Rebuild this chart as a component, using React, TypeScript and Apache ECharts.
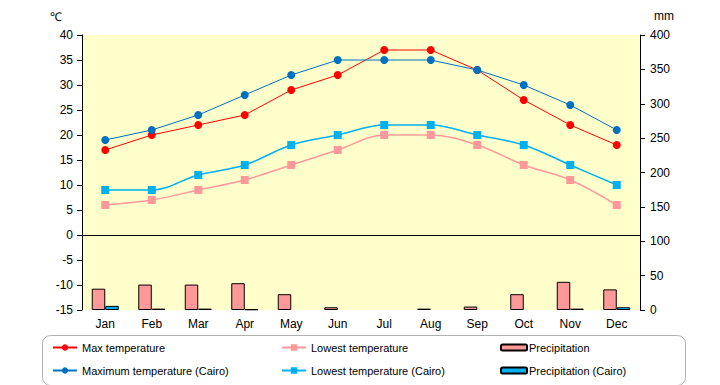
import React, { useEffect, useRef } from "react";
import * as echarts from "echarts";

const months = ["Jan", "Feb", "Mar", "Apr", "May", "Jun", "Jul", "Aug", "Sep", "Oct", "Nov", "Dec"];
const maxTemp = [17, 20, 22, 24, 29, 32, 37, 37, 33, 27, 22, 18];
const minTemp = [6, 7, 9, 11, 14, 17, 20, 20, 18, 14, 11, 6];
const precip = [31, 37, 37, 39, 23, 4, 0, 2, 5, 23, 41, 30];
const maxTempCairo = [19, 21, 24, 28, 32, 35, 35, 35, 33, 30, 26, 21];
const minTempCairo = [9, 9, 12, 14, 18, 20, 22, 22, 20, 18, 14, 10];
const precipCairo = [6, 2, 2, 1, 0, 0, 0, 0, 0, 0, 2, 4];

const FONT = "Liberation Sans";

const hideZero = (arr: number[]) => arr.map((v) => (v === 0 ? null : v));

export default function App() {
  const ref = useRef<HTMLDivElement>(null);
  useEffect(() => {
    const chart = echarts.init(ref.current!, null, { renderer: "svg" });
    const txt = { fontFamily: FONT, fontSize: 12, color: "#000" };
    const legTxt = { fontFamily: FONT, fontSize: 11, color: "#000" };
    chart.setOption({
      animation: false,
      textStyle: { fontFamily: FONT },
      grid: { left: 82, right: 80, top: 35, bottom: 75, show: true, backgroundColor: "#FFFFCC", borderWidth: 0 },
      xAxis: {
        type: "category",
        data: months,
        axisLine: { show: false },
        axisTick: { show: false },
        axisLabel: { ...txt, margin: 8 },
      },
      yAxis: [
        {
          type: "value",
          min: -15,
          max: 40,
          interval: 5,
          position: "left",
          axisLine: { show: true, lineStyle: { color: "#000", width: 1 } },
          axisTick: { show: true, inside: false, length: 5, lineStyle: { color: "#000" } },
          axisLabel: { ...txt, margin: 9 },
          splitLine: { show: false },
        },
        {
          type: "value",
          min: 0,
          max: 400,
          interval: 50,
          position: "right",
          axisLine: { show: true, lineStyle: { color: "#000", width: 1 } },
          axisTick: { show: true, inside: false, length: 5, lineStyle: { color: "#000" } },
          axisLabel: { ...txt, margin: 10 },
          splitLine: { show: false },
        },
      ],
      legend: [
        {
          left: 52,
          top: 342,
          padding: 0,
          orient: "vertical",
          itemGap: 12,
          itemWidth: 24,
          itemHeight: 8,
          textStyle: legTxt,
          data: ["Max temperature", "Maximum temperature (Cairo)"],
        },
        {
          left: 281,
          top: 342,
          padding: 0,
          orient: "vertical",
          itemGap: 12,
          itemWidth: 24,
          itemHeight: 8,
          textStyle: legTxt,
          data: ["Lowest temperature", "Lowest temperature (Cairo)"],
        },
        {
          left: 500,
          top: 342,
          padding: 0,
          orient: "vertical",
          itemGap: 12,
          itemWidth: 26,
          itemHeight: 6,
          textStyle: { ...legTxt, padding: [0, 0, 0, -3] },
          data: ["Precipitation", "Precipitation (Cairo)"],
        },
      ],
      graphic: [
        {
          type: "rect",
          left: 40,
          top: 333,
          shape: { width: 643, height: 50, r: 8 },
          style: { fill: "none", stroke: "#b0b0b0", lineWidth: 1 },
          silent: true,
        },
        { type: "text", left: 50, top: 11, style: { text: "℃", font: `12px ${FONT}`, fill: "#000" } },
        { type: "text", left: 654, top: 10, style: { text: "mm", font: `12px ${FONT}`, fill: "#000" } },
      ],
      series: [
        {
          name: "Precipitation",
          type: "bar",
          yAxisIndex: 1,
          data: hideZero(precip),
          barWidth: 13.5,
          barGap: "0%",
          itemStyle: { color: "#FF9999", borderColor: "#000", borderWidth: 1 },
        },
        {
          name: "Precipitation (Cairo)",
          type: "bar",
          yAxisIndex: 1,
          data: hideZero(precipCairo),
          barWidth: 13.5,
          barGap: "0%",
          itemStyle: { color: "#00B0F0", borderColor: "#000", borderWidth: 1 },
        },
        {
          name: "Max temperature",
          type: "line",
          data: maxTemp,
          symbol: "circle",
          symbolSize: 8,
          color: "#FF0000",
          lineStyle: { width: 1, color: "#FF0000" },
          itemStyle: { color: "#FF0000" },
          markLine: {
            silent: true,
            symbol: "none",
            label: { show: false },
            lineStyle: { color: "#000", width: 1, type: "solid" },
            data: [{ yAxis: 0 }],
          },
        },
        {
          name: "Lowest temperature",
          type: "line",
          data: minTemp,
          smooth: 0.35,
          symbol: "rect",
          symbolSize: 8,
          color: "#FF9999",
          lineStyle: { width: 1.5, color: "#FF9999" },
          itemStyle: { color: "#FF9999" },
        },
        {
          name: "Maximum temperature (Cairo)",
          type: "line",
          data: maxTempCairo,
          symbol: "circle",
          symbolSize: 8,
          color: "#0070C0",
          lineStyle: { width: 1, color: "#0070C0" },
          itemStyle: { color: "#0070C0" },
        },
        {
          name: "Lowest temperature (Cairo)",
          type: "line",
          data: minTempCairo,
          smooth: 0.35,
          symbol: "rect",
          symbolSize: 8,
          color: "#00B0F0",
          lineStyle: { width: 1.5, color: "#00B0F0" },
          itemStyle: { color: "#00B0F0" },
        },
      ],
    });
    return () => chart.dispose();
  }, []);
  return <div ref={ref} style={{ width: 720, height: 385, position: "absolute", left: 0, top: 0 }} />;
}
